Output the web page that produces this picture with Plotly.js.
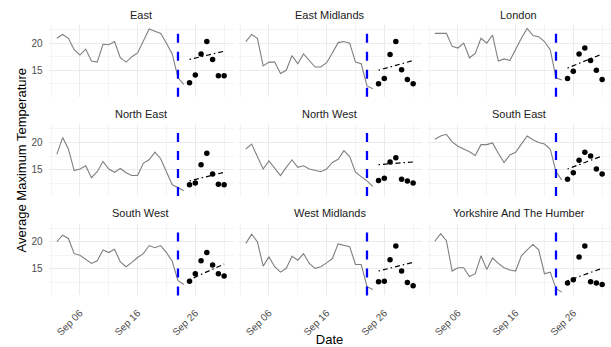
<!DOCTYPE html>
<html>
<head>
<meta charset="utf-8">
<script src="https://cdn.plot.ly/plotly-3.0.1.min.js"></script>
<style>html,body{margin:0;padding:0;background:#fff;}#chart{width:611px;height:347px;}</style>
</head>
<body>
<div id="chart"></div>
<script>
// ---------- data ----------
const regions = ['East', 'East Midlands', 'London', 'North East', 'North West', 'South East', 'South West', 'West Midlands', 'Yorkshire And The Humber'];

const obsDates = ['2023-09-02','2023-09-03','2023-09-04','2023-09-05','2023-09-06','2023-09-07','2023-09-08','2023-09-09','2023-09-10','2023-09-11','2023-09-12','2023-09-13','2023-09-14','2023-09-15','2023-09-16','2023-09-17','2023-09-18','2023-09-19','2023-09-20','2023-09-21','2023-09-22','2023-09-23','2023-09-24'];
const predDates = ['2023-09-25','2023-09-26','2023-09-27','2023-09-28','2023-09-29','2023-09-30','2023-10-01'];
const trendDates = ['2023-09-25','2023-10-01'];
const cutoffDate = '2023-09-23';

const obsEast          = [20.9,21.6,20.9,18.8,17.8,18.9,16.7,16.5,19.8,19.7,20.3,17.3,16.5,17.5,18.2,20.3,22.6,22.2,21.8,20.0,18.0,13.6,12.4];
const obsEastMidlands  = [20.3,21.6,20.9,15.8,16.5,16.5,14.4,15.0,17.7,16.2,18.0,16.8,15.6,15.6,16.4,18.2,20.1,20.3,20.0,16.5,16.2,12.1,11.6];
const obsLondon        = [21.8,21.8,21.8,19.4,19.1,20.0,17.3,18.1,20.9,20.0,21.5,16.7,17.1,16.8,18.9,20.9,22.7,21.4,21.2,20.3,18.8,13.6,13.2];
const obsNorthEast     = [17.8,20.9,18.8,14.8,15.1,15.7,13.5,14.6,16.5,15.1,14.5,15.2,14.4,13.9,13.9,16.2,16.8,18.2,17.0,14.5,12.2,11.7,11.1];
const obsNorthWest     = [18.8,19.7,17.4,15.1,16.6,15.2,13.9,15.4,16.8,15.4,15.7,15.1,14.9,14.6,15.1,16.3,16.9,18.5,17.4,14.5,13.7,12.9,11.9];
const obsSouthEast     = [20.6,21.2,21.5,20.1,19.3,18.8,18.3,17.6,19.6,19.6,19.9,18.0,16.3,17.7,18.2,19.7,21.2,20.5,20.0,19.7,18.8,14.6,13.1];
const obsSouthWest     = [20.0,21.2,20.6,17.8,17.5,16.8,16.0,16.5,18.5,18.0,18.6,16.3,15.4,16.2,17.1,17.8,19.3,18.9,19.3,18.0,16.4,12.8,12.1];
const obsWestMidlands  = [19.7,21.4,20.0,15.5,17.2,15.4,14.4,15.1,17.3,16.6,17.8,16.0,15.1,15.4,16.1,16.9,19.6,19.4,19.1,15.8,15.8,11.7,11.2];
const obsYorkshire     = [20.1,21.5,20.2,14.6,15.2,15.2,13.6,14.1,17.4,14.9,17.0,16.0,15.2,14.8,14.6,17.4,18.5,19.5,18.5,14.1,14.4,11.4,10.7];

const predEast         = [12.7,14.1,18.0,20.3,17.0,14.0,14.0];
const predEastMidlands = [12.5,13.5,17.9,20.3,15.1,13.3,12.5];
const predLondon       = [13.5,14.8,18.0,19.1,16.8,15.0,13.3];
const predNorthEast    = [12.2,12.5,15.9,18.0,14.2,12.3,12.2];
const predNorthWest    = [13.0,13.4,16.4,17.2,13.2,12.9,12.5];
const predSouthEast    = [13.2,14.4,16.7,18.2,17.5,15.1,14.2];
const predSouthWest    = [12.7,14.1,16.5,18.0,15.7,14.1,13.7];
const predWestMidlands = [12.6,12.7,16.7,19.2,14.6,12.5,11.9];
const predYorkshire    = [12.4,13.0,17.2,19.2,12.6,12.4,12.1];

const trendEast         = [17.0,18.5];
const trendEastMidlands = [15.0,16.8];
const trendLondon       = [15.4,18.0];
const trendNorthEast    = [12.9,14.5];
const trendNorthWest    = [15.9,16.4];
const trendSouthEast    = [15.1,17.5];
const trendSouthWest    = [13.0,15.9];
const trendWestMidlands = [14.6,16.2];
const trendYorkshire    = [12.8,15.1];

const xTickLabelsFormat = '%b %d';
const yTickVals = [15, 20];

// ---------- build ----------
const obsAll = [obsEast, obsEastMidlands, obsLondon, obsNorthEast, obsNorthWest, obsSouthEast, obsSouthWest, obsWestMidlands, obsYorkshire];
const predAll = [predEast, predEastMidlands, predLondon, predNorthEast, predNorthWest, predSouthEast, predSouthWest, predWestMidlands, predYorkshire];
const trendAll = [trendEast, trendEastMidlands, trendLondon, trendNorthEast, trendNorthWest, trendSouthEast, trendSouthWest, trendWestMidlands, trendYorkshire];

const W = 611, H = 347;
const colLeft = [48.5, 237.5, 426.5], colW = 184;
const rowTop = [25, 124.3, 223.6], rowH = 71.8;
const stripY = [15, 114, 213];
const FONT = 'Liberation Sans, Arial, sans-serif';

const traces = [];
const layout = {
  width: W, height: H,
  margin: {l: 0, r: 0, t: 0, b: 0},
  paper_bgcolor: '#ffffff', plot_bgcolor: 'rgba(0,0,0,0)',
  showlegend: false,
  font: {family: FONT, color: '#4d4d4d', size: 10},
  shapes: [], annotations: []
};

for (let i = 0; i < 9; i++) {
  const r = Math.floor(i / 3), c = i % 3;
  const sfx = i === 0 ? '' : String(i + 1);
  const xa = 'x' + sfx, ya = 'y' + sfx;

  traces.push({type: 'scatter', mode: 'lines', x: obsDates, y: obsAll[i], xaxis: xa, yaxis: ya,
    line: {color: '#7f7f7f', width: 1.1}, hoverinfo: 'skip'});
  traces.push({type: 'scatter', mode: 'markers', x: predDates, y: predAll[i], xaxis: xa, yaxis: ya,
    marker: {color: '#000000', size: 5.5}, hoverinfo: 'skip'});
  traces.push({type: 'scatter', mode: 'lines', x: trendDates, y: trendAll[i], xaxis: xa, yaxis: ya,
    line: {color: '#000000', width: 1.2, dash: '1.5px,3px,5px,3px'}, hoverinfo: 'skip'});

  const x0 = colLeft[c] / W, x1 = (colLeft[c] + colW) / W;
  const y1 = 1 - rowTop[r] / H, y0 = 1 - (rowTop[r] + rowH) / H;

  layout['xaxis' + sfx] = {
    domain: [x0, x1], anchor: ya, type: 'date',
    range: ['2023-08-31 13:12', '2023-10-02 10:48'],
    tick0: '2023-09-06', dtick: 10 * 86400000, tickformat: xTickLabelsFormat,
    showticklabels: r === 2, tickangle: -45,
    ticks: 'outside', ticklen: 7, tickcolor: 'rgba(0,0,0,0)',
    tickfont: {family: FONT, size: 10, color: '#4d4d4d'},
    showgrid: true, gridcolor: '#ebebeb', gridwidth: 1.1,
    minor: {tick0: '2023-09-01', dtick: 10 * 86400000, showgrid: true, gridcolor: '#ebebeb', gridwidth: 0.55},
    zeroline: false, showline: false, fixedrange: true
  };
  layout['yaxis' + sfx] = {
    domain: [y0, y1], anchor: xa,
    range: [10.1, 23.35],
    tickmode: 'array', tickvals: yTickVals,
    showticklabels: c === 0,
    ticks: 'outside', ticklen: 3, tickcolor: 'rgba(0,0,0,0)',
    tickfont: {family: FONT, size: 10, color: '#4d4d4d'},
    showgrid: true, gridcolor: '#ebebeb', gridwidth: 1.1,
    minor: {tick0: 0, dtick: 2.5, showgrid: true, gridcolor: '#ebebeb', gridwidth: 0.55},
    zeroline: false, showline: false, fixedrange: true
  };

  layout.shapes.push({type: 'line', xref: xa, yref: ya + ' domain', x0: cutoffDate, x1: cutoffDate, y0: 0, y1: 1,
    line: {color: '#0000ff', width: 2.3, dash: '9px,9px'}});

  layout.annotations.push({text: regions[i], xref: 'paper', yref: 'paper',
    x: (colLeft[c] + colW / 2) / W, y: 1 - stripY[r] / H, xanchor: 'center', yanchor: 'middle',
    showarrow: false, font: {family: FONT, size: 11, color: '#1a1a1a'}});
}

layout.xaxis8.title = {text: 'Date', font: {family: FONT, size: 13, color: '#000000'}, standoff: 1};
layout.yaxis4.title = {text: 'Average Maximum Temperature', font: {family: FONT, size: 13, color: '#000000'}, standoff: 1};

Plotly.newPlot('chart', traces, layout, {staticPlot: true, displayModeBar: false});
</script>
</body>
</html>
